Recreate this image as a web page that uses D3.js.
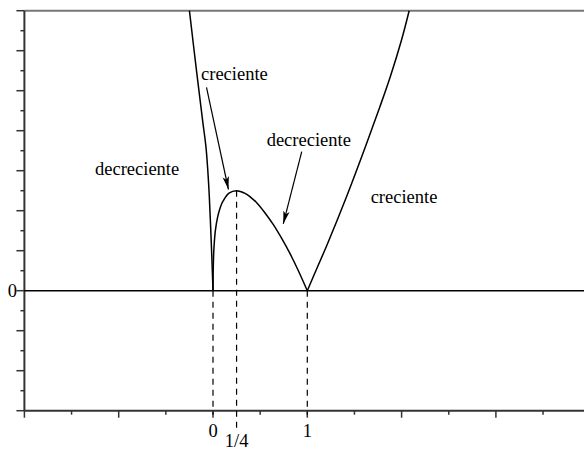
<!DOCTYPE html>
<html>
<head>
<meta charset="utf-8">
<script src="https://cdn.jsdelivr.net/npm/d3@7"></script>
<style>
  body { margin: 0; background: #fff; }
  text { font-family: "Liberation Serif", "Times New Roman", serif; }
</style>
</head>
<body>
<div id="chart"></div>
<script>
// curve, split at the cusps x=0 and x=1
const leftX = [-0.25, -0.17, -0.11, -0.075, -0.055, -0.04, -0.026, -0.011, 0];
const leftY = [1.40, 1.08, 0.85, 0.72, 0.60, 0.48, 0.33, 0.15, 0];
const midX = [0, 0.004, 0.011, 0.025, 0.05, 0.08, 0.109, 0.17, 0.25, 0.34, 0.4, 0.463, 0.55, 0.64, 0.73, 0.817, 0.91, 1];
const midY = [0, 0.14, 0.22, 0.30, 0.37, 0.42, 0.45, 0.488, 0.50, 0.487, 0.467, 0.44, 0.39, 0.33, 0.26, 0.185, 0.095, 0];
const rightX = [1, 1.1, 1.21, 1.42, 1.62, 1.77, 1.88, 2.0, 2.08];
const rightY = [0, 0.11, 0.23, 0.475, 0.725, 0.92, 1.07, 1.255, 1.40];

// dashed guides and their tick labels
const guideX = [0, 0.25, 1];
const guideLabels = ["0", "1/4", "1"];
const yLabels = ["0"];
const regionLabels = ["decreciente", "creciente", "decreciente", "creciente"];

const width = 584;
const height = 451;

// Create scales (x: 94.3px per unit, y: 200px per unit)
const x = d3.scaleLinear().domain([-2, 4]).range([24.4, 24.4 + 6 * 94.3]);
const y = d3.scaleLinear().domain([-0.6, 1.4]).range([410.7, 10.7]);

const svg = d3.select('#chart')
    .append('svg')
    .attr('width', width)
    .attr('height', height);

svg.append('defs').append('marker')
    .attr('id', 'arrow')
    .attr('viewBox', '0 -4 13 8')
    .attr('refX', 13)
    .attr('refY', 0)
    .attr('markerUnits', 'userSpaceOnUse')
    .attr('markerWidth', 13)
    .attr('markerHeight', 8)
    .attr('orient', 'auto')
    .append('path')
    .attr('d', 'M0,-3.2L13,0L0,3.2L3,0Z')
    .attr('fill', '#000');

// Top border
svg.append('line')
    .attr('x1', x(-2)).attr('x2', width)
    .attr('y1', y(1.4)).attr('y2', y(1.4))
    .attr('stroke', '#777').attr('stroke-width', 2);

// Left axis with major / minor ticks
const yMajor = d3.range(-0.6, 1.41, 0.2);
const yMinor = d3.range(-0.5, 1.4, 0.2);
const left = svg.append('g');
left.append('line')
    .attr('x1', x(-2)).attr('x2', x(-2))
    .attr('y1', y(1.4)).attr('y2', y(-0.6))
    .attr('stroke', '#333').attr('stroke-width', 2);
left.selectAll('.ymaj').data(yMajor).enter().append('line')
    .attr('x1', x(-2) - 8).attr('x2', x(-2))
    .attr('y1', d => y(d)).attr('y2', d => y(d))
    .attr('stroke', '#333').attr('stroke-width', 1.5);
left.selectAll('.ymin').data(yMinor).enter().append('line')
    .attr('x1', x(-2) - 4).attr('x2', x(-2))
    .attr('y1', d => y(d)).attr('y2', d => y(d))
    .attr('stroke', '#333').attr('stroke-width', 1.5);
left.selectAll('.ylab').data(yLabels).enter().append('text')
    .attr('x', x(-2) - 12)
    .attr('y', y(0) + 6)
    .attr('text-anchor', 'middle')
    .attr('font-size', 18.5)
    .text(d => d);

// Bottom axis
const xMajor = d3.range(-2, 3.1, 1);
const xMinor = d3.range(-1.5, 3.6, 1);
const bottom = svg.append('g');
bottom.append('line')
    .attr('x1', x(-2)).attr('x2', width)
    .attr('y1', y(-0.6)).attr('y2', y(-0.6))
    .attr('stroke', '#333').attr('stroke-width', 2);
bottom.selectAll('.xmaj').data(xMajor).enter().append('line')
    .attr('x1', d => x(d)).attr('x2', d => x(d))
    .attr('y1', y(-0.6)).attr('y2', y(-0.6) + 7)
    .attr('stroke', '#333').attr('stroke-width', 1.5);
bottom.selectAll('.xmin').data(xMinor).enter().append('line')
    .attr('x1', d => x(d)).attr('x2', d => x(d))
    .attr('y1', y(-0.6)).attr('y2', y(-0.6) + 4)
    .attr('stroke', '#333').attr('stroke-width', 1.5);

// Zero line
svg.append('line')
    .attr('x1', x(-2)).attr('x2', width)
    .attr('y1', y(0)).attr('y2', y(0))
    .attr('stroke', '#000').attr('stroke-width', 1.5);

// Dashed guides: from the curve down below the axis
const guideTop = [0, 0.5, 0];
const guideBottom = [-0.62, -0.705, -0.62];
svg.selectAll('.guide').data(guideX).enter().append('line')
    .attr('x1', d => x(d)).attr('x2', d => x(d))
    .attr('y1', (d, i) => y(guideTop[i]))
    .attr('y2', (d, i) => y(guideBottom[i]))
    .attr('stroke', '#000').attr('stroke-width', 1.2)
    .attr('stroke-dasharray', '6,5');

const labelDy = [437, 447, 437];
svg.selectAll('.glab').data(guideLabels).enter().append('text')
    .attr('x', (d, i) => x(guideX[i]))
    .attr('y', (d, i) => labelDy[i])
    .attr('text-anchor', 'middle')
    .attr('font-size', 18.5)
    .text(d => d);

// Curve
const line = d3.line()
    .x(d => x(d[0]))
    .y(d => y(d[1]))
    .curve(d3.curveCatmullRom.alpha(0.5));
[[leftX, leftY], [midX, midY], [rightX, rightY]].forEach(([xs, ys]) => {
    svg.append('path')
        .datum(xs.map((v, i) => [v, ys[i]]))
        .attr('d', line)
        .attr('fill', 'none')
        .attr('stroke', '#000')
        .attr('stroke-width', 1.5);
});

// Region labels and arrows (data coordinates)
const labelAt = [[-1.251, 0.578], [-0.127, 1.053], [0.569, 0.723], [1.672, 0.437]];
svg.selectAll('.rlab').data(regionLabels).enter().append('text')
    .attr('x', (d, i) => x(labelAt[i][0]))
    .attr('y', (d, i) => y(labelAt[i][1]))
    .attr('font-size', 18.5)
    .text(d => d);

const arrows = [[[-0.069, 1.017], [0.164, 0.506]], [[0.941, 0.695], [0.745, 0.334]]];
svg.selectAll('.arrow').data(arrows).enter().append('line')
    .attr('x1', d => x(d[0][0])).attr('y1', d => y(d[0][1]))
    .attr('x2', d => x(d[1][0])).attr('y2', d => y(d[1][1]))
    .attr('stroke', '#000').attr('stroke-width', 1.2)
    .attr('marker-end', 'url(#arrow)');
</script>
</body>
</html>
